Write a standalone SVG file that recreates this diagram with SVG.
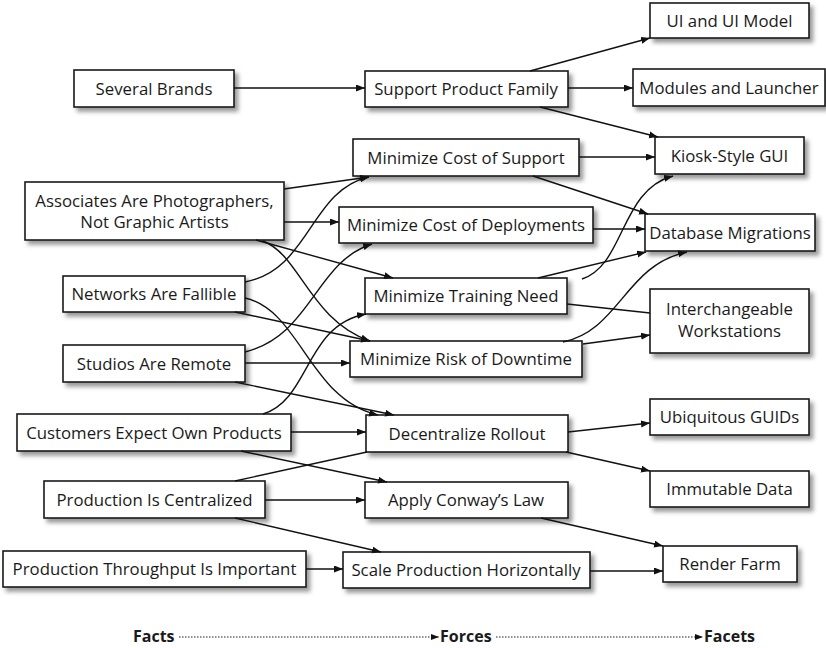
<svg xmlns="http://www.w3.org/2000/svg" width="826" height="648" viewBox="0 0 826 648">
  <defs>
    <filter id="shadow" x="-10%" y="-20%" width="130%" height="160%">
      <feDropShadow dx="3.5" dy="4" stdDeviation="2" flood-color="#000" flood-opacity="0.4"/>
    </filter>
    <marker id="arrow" markerUnits="userSpaceOnUse" markerWidth="10" markerHeight="8" refX="9" refY="3.5" orient="auto">
      <path d="M0,0 L9,3.5 L0,7 z" fill="#111"/>
    </marker>
    <marker id="arrow-small" markerUnits="userSpaceOnUse" markerWidth="9" markerHeight="7" refX="8" refY="3" orient="auto">
      <path d="M0,0 L8,3 L0,6 z" fill="#111"/>
    </marker>
  </defs>
  <style>
    rect { fill: #fff; stroke: #1a1a1a; stroke-width: 1.6; filter: url(#shadow); }
    text { font-family: "Open Sans", "Noto Sans", "DejaVu Sans", sans-serif; font-size: 16.8px; fill: #1a1a1a; text-anchor: middle; }
    .legend { font-size: 16px; font-weight: bold; text-anchor: start; }
    #connectors path { fill: none; stroke: #111; stroke-width: 1.4; }
    #connectors .arr { marker-end: url(#arrow); }
    #legend path { fill: none; stroke: #222; stroke-width: 1.2; stroke-dasharray: 1.5 1.5; marker-end: url(#arrow-small); }
  </style>

  <rect x="0" y="0" width="826" height="648" style="fill:#fff;stroke:none;filter:none"/>

  <!-- Facts -->
  <g id="several-brands"><rect x="74" y="70" width="160" height="37"/><text x="154" y="94.5">Several Brands</text></g>
  <g id="associates"><rect x="25" y="182" width="259" height="58"/><text x="154.5" y="207">Associates Are Photographers,</text><text x="154.5" y="228">Not Graphic Artists</text></g>
  <g id="networks-fallible"><rect x="63" y="276" width="182" height="36"/><text x="154" y="300">Networks Are Fallible</text></g>
  <g id="studios-remote"><rect x="63" y="345" width="182" height="37"/><text x="154" y="369.5">Studios Are Remote</text></g>
  <g id="customers-expect"><rect x="17" y="414" width="274" height="37"/><text x="154" y="438.5">Customers Expect Own Products</text></g>
  <g id="production-centralized"><rect x="44" y="481" width="221" height="37"/><text x="154.5" y="505.5">Production Is Centralized</text></g>
  <g id="production-throughput"><rect x="3" y="551" width="303" height="36"/><text x="154.5" y="575">Production Throughput Is Important</text></g>

  <!-- Forces -->
  <g id="support-product-family"><rect x="365" y="71" width="203" height="36"/><text x="466" y="95">Support Product Family</text></g>
  <g id="min-cost-support"><rect x="353" y="139" width="226" height="37"/><text x="466" y="163.5">Minimize Cost of Support</text></g>
  <g id="min-cost-deployments"><rect x="339" y="207" width="254" height="36"/><text x="466" y="231">Minimize Cost of Deployments</text></g>
  <g id="min-training-need"><rect x="365" y="278" width="202" height="36"/><text x="466" y="302">Minimize Training Need</text></g>
  <g id="min-risk-downtime"><rect x="350" y="341" width="232" height="36"/><text x="466" y="365">Minimize Risk of Downtime</text></g>
  <g id="decentralize-rollout"><rect x="366" y="415" width="202" height="37"/><text x="467" y="439.5">Decentralize Rollout</text></g>
  <g id="apply-conway"><rect x="365" y="482" width="203" height="36"/><text x="466" y="506">Apply Conway’s Law</text></g>
  <g id="scale-production"><rect x="343" y="552" width="247" height="36"/><text x="466" y="576">Scale Production Horizontally</text></g>

  <!-- Facets -->
  <g id="ui-model"><rect x="650" y="3" width="159" height="35"/><text x="729.5" y="26.5">UI and UI Model</text></g>
  <g id="modules-launcher"><rect x="633" y="69" width="192" height="37"/><text x="729" y="93.5">Modules and Launcher</text></g>
  <g id="kiosk-gui"><rect x="655" y="137" width="149" height="37"/><text x="729.5" y="161.5">Kiosk-Style GUI</text></g>
  <g id="database-migrations"><rect x="645" y="214" width="170" height="37"/><text x="730" y="238.5">Database Migrations</text></g>
  <g id="interchangeable-workstations"><rect x="650" y="289" width="159" height="64"/><text x="729.5" y="315">Interchangeable</text><text x="729.5" y="337">Workstations</text></g>
  <g id="ubiquitous-guids"><rect x="650" y="399" width="159" height="36"/><text x="729.5" y="423">Ubiquitous GUIDs</text></g>
  <g id="immutable-data"><rect x="650" y="471" width="159" height="36"/><text x="729.5" y="495">Immutable Data</text></g>
  <g id="render-farm"><rect x="663" y="546" width="134" height="36"/><text x="730" y="570">Render Farm</text></g>

  <g id="connectors">
    <!-- facts to forces -->
    <path class="arr" d="M234,88 L365,88"/>
    <path class="arr" d="M284,189 L369,177"/>
    <path class="arr" d="M245,282 C310,270 310,190 369,177"/>
    <path class="arr" d="M284,222 L339,222"/>
    <path class="arr" d="M245,352 C312,335 315,262 372,244"/>
    <path class="arr" d="M256,240 L393,278"/>
    <path class="arr" d="M263,241 C300,255 310,320 370,341"/>
    <path class="arr" d="M235,312 L370,341"/>
    <path class="arr" d="M263,414 C310,400 305,325 366,314"/>
    <path class="arr" d="M245,363 L350,363"/>
    <path class="arr" d="M245,298 C300,310 310,400 378,415"/>
    <path class="arr" d="M235,382 L394,415"/>
    <path class="arr" d="M291,432 L366,432"/>
    <path d="M235,481 L367,452"/>
    <path class="arr" d="M241,451 L387,482"/>
    <path class="arr" d="M265,500 L365,500"/>
    <path class="arr" d="M235,518 L381,552"/>
    <path class="arr" d="M306,569 L343,569"/>
    <!-- forces to facets -->
    <path class="arr" d="M530,71 L650,38"/>
    <path class="arr" d="M568,88 L633,88"/>
    <path class="arr" d="M540,107 L658,137"/>
    <path class="arr" d="M579,157 L655,157"/>
    <path class="arr" d="M533,176 L648,214"/>
    <path class="arr" d="M593,229 L645,229"/>
    <path class="arr" d="M538,278 L646,252"/>
    <path class="arr" d="M582,279 C625,265 620,190 673,176"/>
    <path d="M567,304 L650,313"/>
    <path class="arr" d="M583,344 L650,335"/>
    <path class="arr" d="M563,342 C620,330 625,265 687,252"/>
    <path class="arr" d="M568,432 L650,423"/>
    <path class="arr" d="M566,452 L650,471"/>
    <path class="arr" d="M541,518 L663,546"/>
    <path class="arr" d="M590,571 L663,571"/>
  </g>

  <g id="legend">
    <text class="legend" x="133" y="642">Facts</text>
    <path d="M179,637 L439,637"/>
    <text class="legend" x="440" y="642">Forces</text>
    <path d="M496,637 L703,637"/>
    <text class="legend" x="704" y="642">Facets</text>
  </g>
</svg>
